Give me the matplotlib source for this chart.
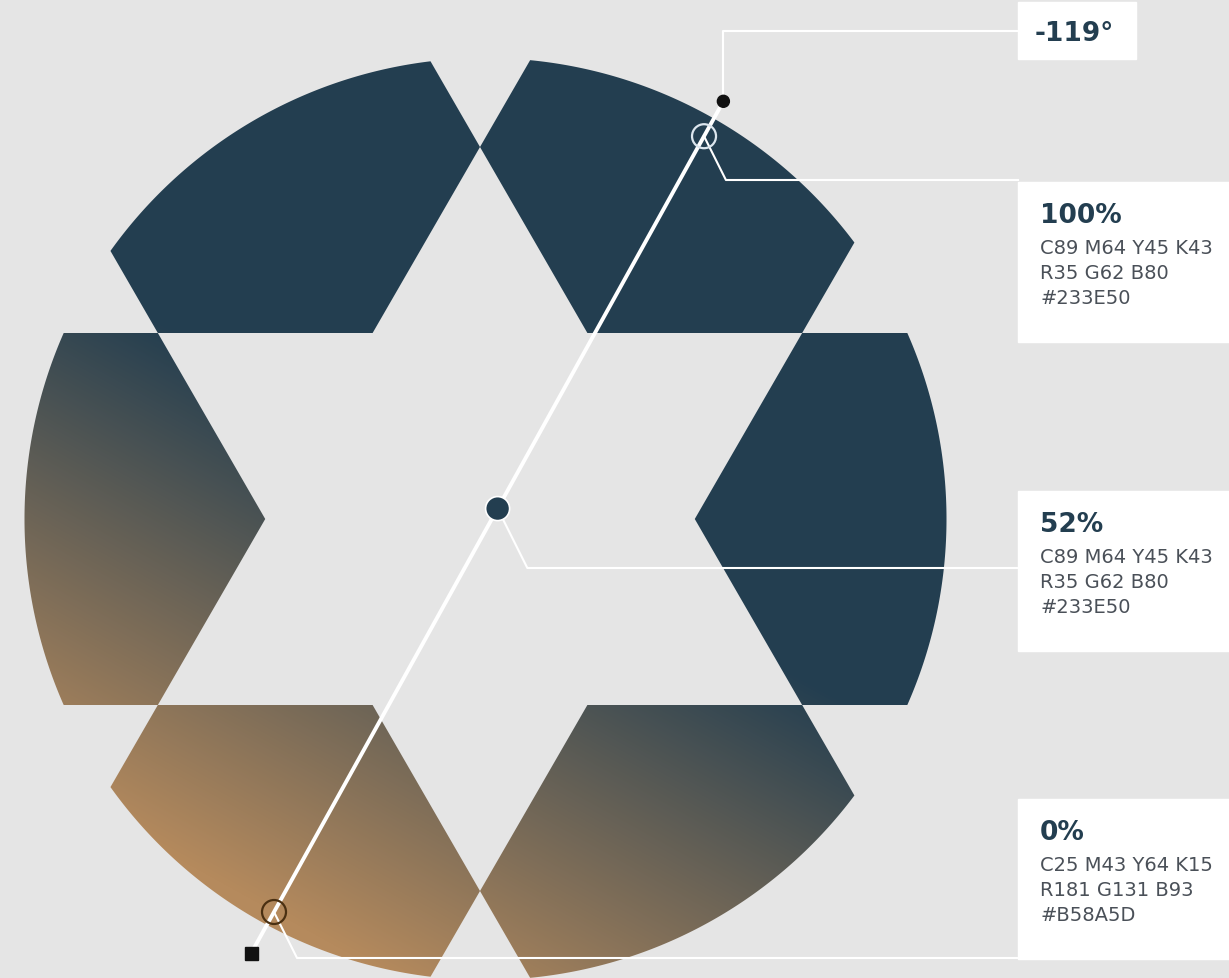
import numpy as np
import matplotlib
matplotlib.use('Agg')
import matplotlib.pyplot as plt
from matplotlib.path import Path
from matplotlib.patches import Circle, Rectangle
from matplotlib.colors import to_rgb

# gradient settings shown in the chart
gradient_angle = -119
stop_positions = [0.0, 0.52, 1.0]
stop_colors = ['#B58A5D', '#233E50', '#233E50']
stop_labels = ['0%', '52%', '100%']
stop_cmyk = ['C25 M43 Y64 K15', 'C89 M64 Y45 K43', 'C89 M64 Y45 K43']
stop_rgb = ['R181 G131 B93', 'R35 G62 B80', 'R35 G62 B80']
stop_hex = ['#B58A5D', '#233E50', '#233E50']

W, H = 1229, 979
BG = '#E5E5E5'
NAVY = '#233E50'
GREY = '#4A5058'

# layout (pixels, y down)
circle_c = np.array([485.5, 520.0])
circle_r = 461.0
star_c = np.array([480.0, 520.0])
star_r = 372.0
grad_p0 = np.array([274.0, 913.0])
grad_len = 887.0
box_x = 1018
box_tops = [800, 492, 183]
leader_ys = [959, 569, 181]


def star_pt(deg):
    a = np.radians(deg)
    return star_c + star_r * np.array([np.sin(a), -np.cos(a)])


def rotate(p, deg):
    a = np.radians(deg)
    v = p - star_c
    return star_c + np.array([v[0] * np.cos(a) - v[1] * np.sin(a),
                              v[0] * np.sin(a) + v[1] * np.cos(a)])


def clip(poly, a, b, ref):
    d = b - a
    side = lambda q: d[0] * (q[1] - a[1]) - d[1] * (q[0] - a[0])
    sgn = np.sign(side(ref))
    out = []
    n = len(poly)
    for i in range(n):
        cur, nxt = poly[i], poly[(i + 1) % n]
        sc, sn = side(cur) * sgn, side(nxt) * sgn
        if sc >= 0:
            out.append(cur)
        if sc * sn < 0:
            out.append(cur + sc / (sc - sn) * (nxt - cur))
    return np.array(out)


# one piece = circle cut by four lines of the hexagram, then rotated six times
th = np.linspace(0, 2 * np.pi, 1440, endpoint=False)
circle_poly = np.column_stack([circle_c[0] + circle_r * np.cos(th),
                               circle_c[1] + circle_r * np.sin(th)])
base_lines = [(star_pt(300), star_pt(60)),
              (star_pt(0), star_pt(240)),
              (star_pt(0), star_pt(120)),
              (star_pt(300), star_pt(180))]
base_ref = star_c + np.array([-180.0, -270.0])

paths = []
for k in range(6):
    poly = circle_poly.copy()
    ref = rotate(base_ref, 60 * k)
    for a, b in base_lines:
        poly = clip(poly, rotate(a, 60 * k), rotate(b, 60 * k), ref)
    paths.append(Path(np.vstack([poly, poly[:1]]), closed=True))
pieces = Path.make_compound_path(*paths)

fig = plt.figure(figsize=(W / 100, H / 100), dpi=100)
fig.patch.set_facecolor(BG)
ax = fig.add_axes([0, 0, 1, 1])
ax.set_xlim(0, W)
ax.set_ylim(H, 0)
ax.set_aspect('auto')
ax.axis('off')

# linear gradient
ang = np.radians(gradient_angle + 180)
u = np.array([np.cos(ang), -np.sin(ang)])
X, Y = np.meshgrid(np.arange(W) + 0.5, np.arange(H) + 0.5)
t = ((X - grad_p0[0]) * u[0] + (Y - grad_p0[1]) * u[1]) / grad_len
rgb = np.array([to_rgb(c) for c in stop_colors])
img = np.dstack([np.interp(t, stop_positions, rgb[:, i]) for i in range(3)])
im = ax.imshow(img, extent=(0, W, H, 0), origin='upper', interpolation='bilinear', zorder=1)
im.set_clip_path(pieces, transform=ax.transData)

# gradient handle line
start = grad_p0 + (-0.053) * grad_len * u
end = grad_p0 + 1.045 * grad_len * u
ax.plot([start[0], end[0]], [start[1], end[1]], color='white', lw=2.8, zorder=3,
        solid_capstyle='butt')
ax.add_patch(Rectangle((start[0] - 6.5, start[1] - 6.5), 13, 13, color='#111111', zorder=4))
ax.add_patch(Circle(end, 6, color='#111111', zorder=4))

# leader for the angle
ax.plot([end[0], end[0], box_x], [end[1], 32, 32], color='white', lw=1.5, zorder=2)
ax.add_patch(Rectangle((box_x, 3), 118, 57, color='white', zorder=2))
ax.text(1035, 41, f'{gradient_angle}°', fontsize=19, fontweight='bold', color=NAVY,
        va='baseline', ha='left', zorder=5)

ring_edges = ['#4A3012', None, '#DCE6EE']
for pos, lab, cmyk, rgbt, hx, top, ly, edge in zip(stop_positions, stop_labels, stop_cmyk,
                                                     stop_rgb, stop_hex, box_tops,
                                                     leader_ys, ring_edges):
    p = grad_p0 + pos * grad_len * u
    ex = p[0] + 0.5 * (ly - p[1])
    ax.plot([p[0], ex, box_x], [p[1], ly, ly], color='white', lw=1.5, zorder=4)
    if edge is None:
        ax.add_patch(Circle(p, 12, facecolor=NAVY, edgecolor='white', lw=1.2, zorder=5))
    else:
        ax.add_patch(Circle(p, 12, facecolor='none', edgecolor=edge, lw=1.6, zorder=5))
    ax.add_patch(Rectangle((box_x, top), W - box_x, 160, color='white', zorder=2))
    ax.text(1040, top + 40, lab, fontsize=19, fontweight='bold', color=NAVY,
            va='baseline', ha='left', zorder=5)
    for j, line in enumerate([cmyk, rgbt, hx]):
        ax.text(1040, top + 71 + 25 * j, line, fontsize=14, color=GREY,
                va='baseline', ha='left', zorder=5)

fig.savefig('out.png', dpi=100, facecolor=BG)
